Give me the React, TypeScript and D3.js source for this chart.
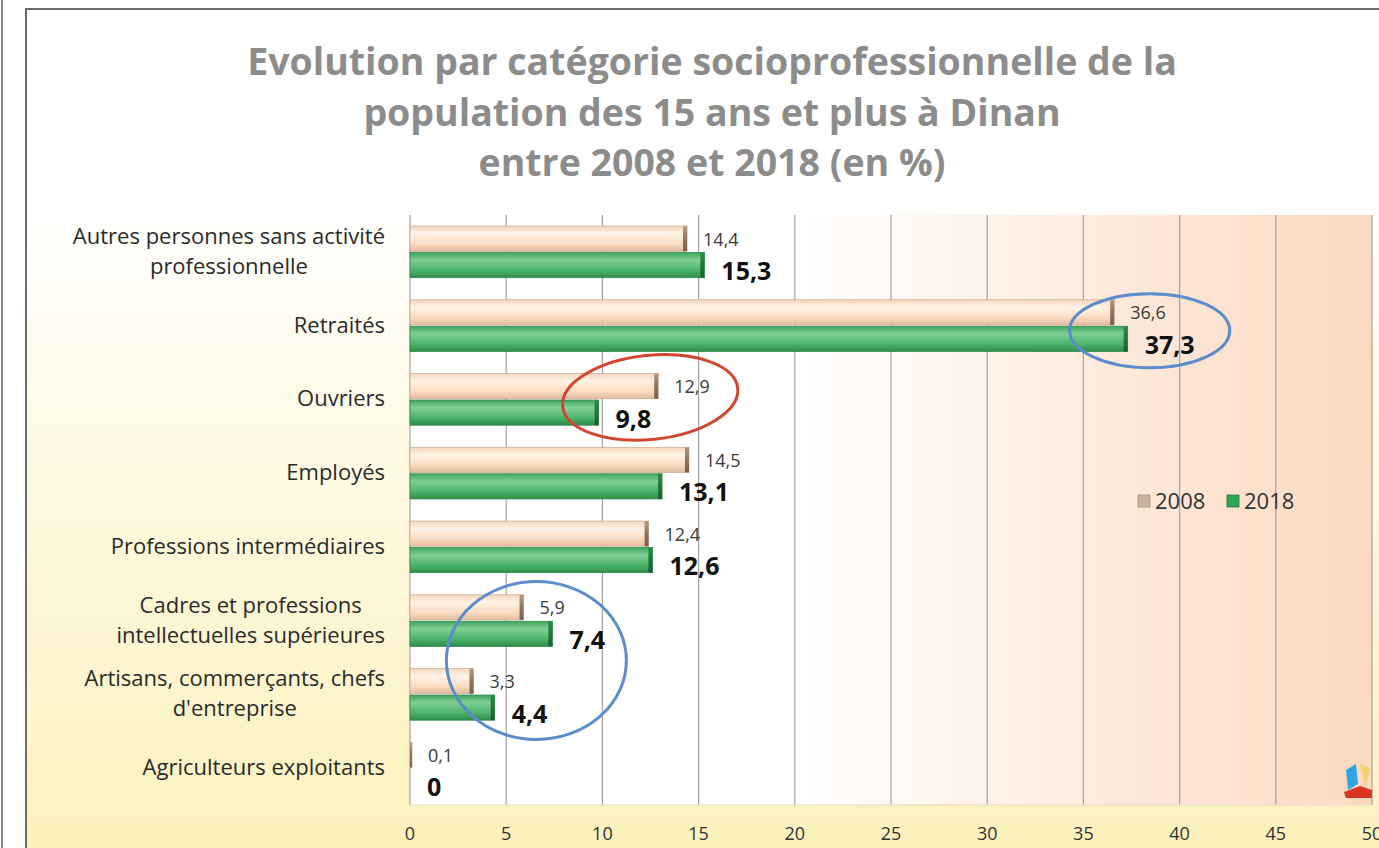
import * as d3 from "d3";

const categories = [
  "Autres personnes sans activité\nprofessionnelle",
  "Retraités",
  "Ouvriers",
  "Employés",
  "Professions intermédiaires",
  "Cadres et professions\nintellectuelles supérieures",
  "Artisans, commerçants, chefs\nd'entreprise",
  "Agriculteurs exploitants",
];
const values2008 = [14.4, 36.6, 12.9, 14.5, 12.4, 5.9, 3.3, 0.1];
const values2018 = [15.3, 37.3, 9.8, 13.1, 12.6, 7.4, 4.4, 0];
const series = ["2008", "2018"];
const xTicks = [0, 5, 10, 15, 20, 25, 30, 35, 40, 45, 50];
const titleLines = [
  "Evolution par catégorie socioprofessionnelle de la",
  "population des 15 ans et plus à Dinan",
  "entre 2008 et 2018 (en %)",
];

const W = 1379;
const H = 848;
const plot = { left: 410, right: 1372, top: 215, bottom: 805 };
const font = "'Open Sans', 'DejaVu Sans', sans-serif";
const labelSize = 22;

const fmt = (v: number) => String(v).replace(".", ",");

// measure text so that wrapped labels are centred on their widest line
let ctx: CanvasRenderingContext2D | null = null;
function textWidth(s: string, size: number) {
  if (!ctx) ctx = document.createElement("canvas").getContext("2d");
  if (!ctx) return s.length * size * 0.55;
  ctx.font = `${size}px 'Open Sans'`;
  return ctx.measureText(s).width;
}

export default function App() {
  const x = d3.scaleLinear().domain([0, 50]).range([plot.left, plot.right]);
  const y = d3
    .scaleBand<string>()
    .domain(categories)
    .range([plot.top, plot.bottom])
    .paddingInner(0.3)
    .paddingOuter(0.15);
  const sub = d3.scaleBand<string>().domain(series).range([0, y.bandwidth()]).paddingInner(0.05);
  const bh = sub.bandwidth();

  const rows = categories.map((c, i) => ({ c, v08: values2008[i], v18: values2018[i] }));

  // annotation ellipses, placed from the data
  const yc = (i: number) => (y(categories[i]) as number) + y.bandwidth() / 2;
  const ovals = [
    { cx: x(values2018[1]) + 22, cy: yc(1) + 5, rx: 80, ry: 37, rot: 0, color: "#5b8ccc" },
    { cx: x(values2008[2]) - 8, cy: yc(2) - 2, rx: 88, ry: 42, rot: -6, color: "#d2452e" },
    { cx: x(values2018[5]) - 16, cy: (yc(5) + yc(6)) / 2 + 3, rx: 90, ry: 79, rot: 0, color: "#5b8ccc" },
  ];

  return (
    <svg width={W} height={H} style={{ position: "absolute", left: 0, top: 0 }}>
      <defs>
        <linearGradient id="bg" x1="0" y1="0" x2="0" y2="1">
          <stop offset="0" stopColor="#ffffff" />
          <stop offset="0.22" stopColor="#ffffff" />
          <stop offset="1" stopColor="#fcf1bb" />
        </linearGradient>
        <linearGradient id="plotbg" x1="0" y1="0" x2="1" y2="0">
          <stop offset="0" stopColor="#ffffff" />
          <stop offset="0.4" stopColor="#ffffff" />
          <stop offset="1" stopColor="#fbd9c0" />
        </linearGradient>
        <linearGradient id="g08" x1="0" y1="0" x2="0" y2="1">
          <stop offset="0" stopColor="#f2d6bd" />
          <stop offset="0.3" stopColor="#fff3e6" />
          <stop offset="0.7" stopColor="#fbdcc2" />
          <stop offset="1" stopColor="#e2bb9c" />
        </linearGradient>
        <linearGradient id="g08cap" x1="0" y1="0" x2="0" y2="1">
          <stop offset="0" stopColor="#b9987e" />
          <stop offset="0.5" stopColor="#8f7360" />
          <stop offset="1" stopColor="#7a604f" />
        </linearGradient>
        <linearGradient id="g18" x1="0" y1="0" x2="0" y2="1">
          <stop offset="0" stopColor="#3ea65c" />
          <stop offset="0.3" stopColor="#7fcf95" />
          <stop offset="0.7" stopColor="#4cb46a" />
          <stop offset="1" stopColor="#2f8c4b" />
        </linearGradient>
        <linearGradient id="g18cap" x1="0" y1="0" x2="0" y2="1">
          <stop offset="0" stopColor="#2c8a47" />
          <stop offset="1" stopColor="#1b5e31" />
        </linearGradient>
      </defs>

      <rect x={0} y={0} width={W} height={H} fill="#ffffff" />
      <line x1={2} x2={2} y1={0} y2={H} stroke="#8a8a8a" strokeWidth={2} />
      <rect x={26} y={9} width={W} height={H} fill="url(#bg)" stroke="#6b6b6b" strokeWidth={2} />

      <g fontFamily={font} fontWeight={700} fontSize={37.5} fill="#8c8c8c" textAnchor="middle">
        {titleLines.map((t, i) => (
          <text key={i} x={712} y={75 + i * 50.5}>
            {t}
          </text>
        ))}
      </g>

      <rect x={plot.left} y={plot.top} width={plot.right - plot.left} height={plot.bottom - plot.top} fill="url(#plotbg)" />
      <g stroke="#a3a3a3" strokeWidth={1.2}>
        {xTicks.map((t) => (
          <line key={t} x1={x(t)} x2={x(t)} y1={plot.top} y2={plot.bottom} />
        ))}
      </g>
      <line x1={plot.left} x2={plot.right} y1={plot.bottom} y2={plot.bottom} stroke="#e6dcc8" />

      {rows.map((r) => {
        const y0 = y(r.c) as number;
        const ya = y0 + (sub("2008") as number);
        const yb = y0 + (sub("2018") as number);
        const w08 = x(r.v08) - x(0);
        const w18 = x(r.v18) - x(0);
        return (
          <g key={r.c}>
            {w08 > 0 && (
              <g>
                <rect x={x(0)} y={ya} width={w08} height={bh} fill="url(#g08)" stroke="#cfae92" strokeWidth={0.8} />
                <rect x={x(0) + w08 - Math.min(4, w08)} y={ya} width={Math.min(4, w08)} height={bh} fill="url(#g08cap)" />
              </g>
            )}
            {w18 > 0 && (
              <g>
                <rect x={x(0)} y={yb} width={w18} height={bh} fill="url(#g18)" stroke="#2f8c4b" strokeWidth={0.8} />
                <rect x={x(0) + w18 - Math.min(4, w18)} y={yb} width={Math.min(4, w18)} height={bh} fill="url(#g18cap)" />
              </g>
            )}
            <text x={x(r.v08) + 16} y={ya + bh / 2 + 7} fontFamily={font} fontSize={18} fill="#3a3a3a">
              {fmt(r.v08)}
            </text>
            <text x={x(r.v18) + 17} y={yb + bh / 2 + 15} fontFamily={font} fontSize={25} fontWeight={700} fill="#111">
              {fmt(r.v18)}
            </text>
          </g>
        );
      })}

      <g fontFamily={font} fontSize={labelSize} fill="#2a2a2a">
        {categories.map((c) => {
          const lines = c.split("\n");
          const cy = (y(c) as number) + y.bandwidth() / 2;
          const lh = 30;
          const maxW = d3.max(lines, (l) => textWidth(l, labelSize)) ?? 0;
          const single = lines.length === 1;
          return lines.map((l, j) => {
            const ty = cy + (j - (lines.length - 1) / 2) * lh + 7;
            return (
              <text key={c + j} x={single ? 385 : 385 - maxW / 2} y={ty} textAnchor={single ? "end" : "middle"}>
                {l}
              </text>
            );
          });
        })}
      </g>

      <g fontFamily={font} fontSize={18} fill="#333" textAnchor="middle">
        {xTicks.map((t) => (
          <text key={t} x={x(t)} y={840}>
            {t}
          </text>
        ))}
      </g>

      {ovals.map((o, i) => (
        <ellipse
          key={i}
          cx={o.cx}
          cy={o.cy}
          rx={o.rx}
          ry={o.ry}
          transform={`rotate(${o.rot} ${o.cx} ${o.cy})`}
          fill="none"
          stroke={o.color}
          strokeWidth={3}
        />
      ))}

      <g fontFamily={font} fontSize={22} fill="#333">
        {series.map((s, i) => (
          <g key={s} transform={`translate(${1138 + i * 89},${495})`}>
            <rect x={0} y={0} width={12} height={12} fill={i === 0 ? "#c9b39f" : "#2fa558"} stroke={i === 0 ? "#a8927e" : "#1f7a3e"} strokeWidth={0.8} />
            <text x={17} y={14}>
              {s}
            </text>
          </g>
        ))}
      </g>

      <g transform="translate(1342,762)">
        <path d="M4,8 L14,2 L16,22 L6,28 Z" fill="#2fa6e0" />
        <path d="M18,2 L28,6 L24,24 Z" fill="#f3d36b" />
        <path d="M2,30 L18,24 L30,28 L30,36 L4,36 Z" fill="#d9361f" />
      </g>
    </svg>
  );
}
